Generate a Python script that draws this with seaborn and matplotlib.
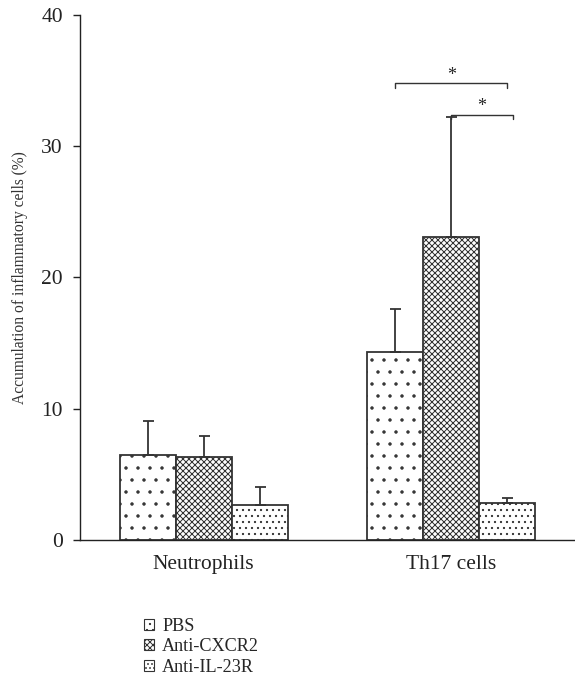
import matplotlib
matplotlib.use("Agg")
import matplotlib.pyplot as plt
import seaborn as sns
import pandas as pd
import numpy as np
from matplotlib.patches import Patch

categories = ["Neutrophils", "Th17 cells"]
groups = ["PBS", "Anti-CXCR2", "Anti-IL-23R"]
pbs_mean = [6.5, 14.3]
cxcr2_mean = [6.3, 23.1]
il23r_mean = [2.7, 2.8]
pbs_err = [2.6, 3.3]
cxcr2_err = [1.6, 9.1]
il23r_err = [1.3, 0.4]
yticks = [0, 10, 20, 30, 40]
ylabel = "Accumulation of inflammatory cells (%)"

means = [pbs_mean, cxcr2_mean, il23r_mean]
errs = [pbs_err, cxcr2_err, il23r_err]
rows = []
for g, m in zip(groups, means):
    for c, v in zip(categories, m):
        rows.append({"cat": c, "group": g, "value": v})
df = pd.DataFrame(rows)

sns.set_theme(style="ticks")
plt.rcParams["font.family"] = ["Liberation Serif", "DejaVu Serif"]
plt.rcParams["hatch.color"] = "#222222"
plt.rcParams["hatch.linewidth"] = 1.0

DPI = 72
fig = plt.figure(figsize=(575 / DPI, 677 / DPI), dpi=DPI)
ax = fig.add_axes([0.139, 0.2024, 0.861, 0.7756])

sns.barplot(data=df, x="cat", y="value", hue="group", order=categories,
            hue_order=groups, width=0.68, ax=ax, legend=False,
            errorbar=None, color="white", saturation=1)

hatches = [".", "xxxx", ".."]
edge = "#333333"
bars = [p for p in ax.patches]
for i, p in enumerate(bars):
    gi = i // len(categories)
    p.set_facecolor("white")
    p.set_edgecolor(edge)
    p.set_linewidth(1.8)
    p.set_hatch(hatches[gi])

centers = {}
for i, p in enumerate(bars):
    gi = i // len(categories)
    ci = i % len(categories)
    cx = p.get_x() + p.get_width() / 2
    centers[(gi, ci)] = (cx, p.get_width())
    e = errs[gi][ci]
    ax.errorbar([cx], [means[gi][ci]], yerr=[[0], [e]], fmt="none",
                ecolor=edge, elinewidth=1.8, capsize=5.5, capthick=1.8, zorder=1)

# significance brackets
def bracket(x1, x2, y, star_x, star_y):
    ax.plot([x1, x1, x2, x2], [y - 0.35, y, y, y - 0.35], color=edge, lw=1.4, clip_on=False)
    ax.text(star_x, star_y, "*", ha="center", va="center", fontsize=18, color="#222222")

x_pbs = centers[(0, 1)][0]
x_cx = centers[(1, 1)][0]
x_il = centers[(2, 1)][0]
w = centers[(2, 1)][1]
bracket(x_pbs, x_il, 34.8, (x_pbs + x_il) / 2, 35.4)
bracket(x_cx, x_il + w * 0.1, 32.4, (x_cx + x_il + w * 0.1) / 2, 33.0)

ax.set_xlim(-0.5, 1.5)
ax.set_ylim(0, 40)
ax.set_yticks(yticks)
ax.set_xlabel("")
ax.set_ylabel(ylabel, fontsize=15.5, color="#333333", labelpad=13)
ax.tick_params(axis="y", labelsize=21.5, length=7, width=1.4, colors="#222222", pad=10)
ax.tick_params(axis="x", labelsize=21.5, length=0, pad=15, colors="#222222")
for s in ["top", "right"]:
    ax.spines[s].set_visible(False)
for s in ["left", "bottom"]:
    ax.spines[s].set_color("#222222")
    ax.spines[s].set_linewidth(1.4)

leg_hatches = ["..", "xxxx", "..."]
handles = [Patch(facecolor="white", edgecolor=edge, hatch=h, linewidth=1.1) for h in leg_hatches]
fig.legend(handles, groups, loc="upper left", bbox_to_anchor=(0.25, 0.087),
           frameon=False, fontsize=18.3, handlelength=0.55, handleheight=0.55,
           handletextpad=0.45, labelspacing=0.18, borderaxespad=0, borderpad=0)

fig.savefig("out.png", dpi=DPI)
